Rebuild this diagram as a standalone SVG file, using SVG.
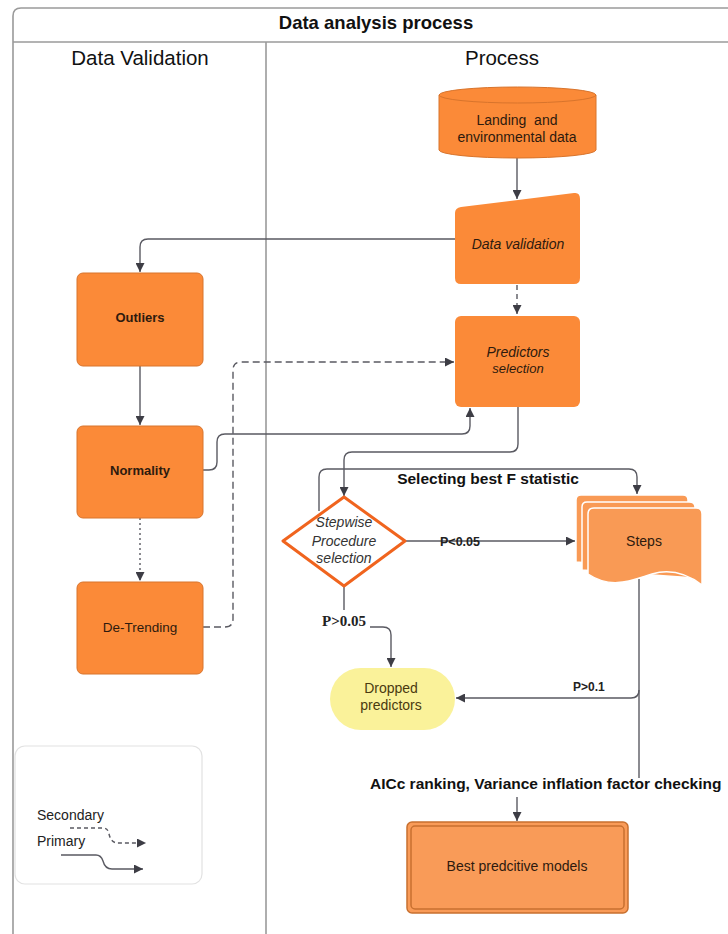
<svg xmlns="http://www.w3.org/2000/svg" width="728" height="934" viewBox="0 0 728 934">
<style>
text{font-family:"Liberation Sans",Arial,sans-serif;fill:#2e1a0e}
.c{text-anchor:middle}
.n{fill:#FB8A38;stroke:#D8742C;stroke-width:1}
.ln{fill:none;stroke:#5a5a62;stroke-width:1.4}
.frame{fill:none;stroke:#9a9a9a;stroke-width:1.6}
.b{font-weight:bold}
.i{font-style:italic}
</style>
<defs>
<marker id="ah" viewBox="0 0 10 10" refX="10" refY="5" markerWidth="10" markerHeight="9" markerUnits="userSpaceOnUse" orient="auto">
<path d="M0,0 L10,5 L0,10 Z" fill="#3d3d45"/>
</marker>
</defs>
<rect width="728" height="934" fill="#ffffff"/>
<g id="frame">
<path class="frame" d="M13,934 L13,16 Q13,8 21,8 L728,8"/>
<line class="frame" x1="13" y1="42" x2="728" y2="42"/>
<line class="frame" x1="266" y1="42" x2="266" y2="934"/>
<text class="c b" x="376" y="29" font-size="18.5" style="fill:#111">Data analysis process</text>
<text class="c" x="140" y="65" font-size="20.5" style="fill:#111">Data Validation</text>
<text class="c" x="502" y="65" font-size="20.5" style="fill:#111">Process</text>
</g>
<g id="connectors">
<path class="ln" d="M517,158 L517,199" marker-end="url(#ah)"/>
<path class="ln" d="M455,239 L148,239 Q140,239 140,247 L140,272" marker-end="url(#ah)"/>
<path class="ln" d="M517,285 L517,314" stroke-dasharray="5,4" marker-end="url(#ah)"/>
<path class="ln" d="M140,366 L140,425" marker-end="url(#ah)"/>
<path class="ln" d="M203,470 L209,470 Q217,470 217,462 L217,442 Q217,434 225,434 L462,434 Q470,434 470,426 L470,408" marker-end="url(#ah)"/>
<path class="ln" d="M140,518 L140,581" stroke-dasharray="2,3" marker-end="url(#ah)"/>
<path class="ln" d="M203,627 L225,627 Q233,627 233,619 L233,370 Q233,362 241,362 L454,362" stroke-dasharray="7,4" marker-end="url(#ah)"/>
<path class="ln" d="M518,407 L518,444 Q518,452 510,452 L352,452 Q344,452 344,460 L344,496" marker-end="url(#ah)"/>
<path class="ln" d="M319,511 L319,477 Q319,469 327,469 L629,469 Q637,469 637,477 L637,494" marker-end="url(#ah)"/>
<path class="ln" d="M405,541 L575,541" marker-end="url(#ah)"/>
<path class="ln" d="M344,586 L344,619 Q344,627 352,627 L383,627 Q391,627 391,635 L391,667" marker-end="url(#ah)"/>
<path class="ln" d="M639,579 L639,778"/>
<path class="ln" d="M639,690 Q639,698 631,698 L456,698" marker-end="url(#ah)"/>
<path class="ln" d="M517,797 L517,821" marker-end="url(#ah)"/>
<rect x="318" y="610" width="52" height="22" fill="#ffffff"/>
<text x="322" y="626" font-size="15" class="b" style="font-family:'Liberation Serif','Times New Roman',serif;fill:#222">P&gt;0.05</text>
<text x="440" y="546" font-size="12.5" class="b" style="fill:#222">P&lt;0.05</text>
<text x="573" y="691" font-size="12" class="b" style="fill:#222">P&gt;0.1</text>
<text class="c b" x="488" y="484" font-size="15.5" style="fill:#111">Selecting best F statistic</text>
<text class="b" x="370" y="789" font-size="15.5" style="fill:#111">AICc ranking, Variance inflation factor checking</text>
</g>
<g id="landing">
<path class="n" d="M439,95 L439,150 A78.5,8 0 0 0 596,150 L596,95 A78.5,8 0 0 0 439,95 Z"/>
<path fill="none" stroke="#D8742C" stroke-width="1" d="M439,95 A78.5,8 0 0 0 596,95"/>
<text class="c" x="517" y="125" font-size="14" xml:space="preserve">Landing  and</text>
<text class="c" x="517" y="142" font-size="14">environmental data</text>
</g>
<g id="data-validation">
<path d="M455,213 Q455,208 461,207 L574,193 Q580,192 580,199 L580,278 Q580,284 574,284 L461,284 Q455,284 455,278 Z" fill="#FB8A38"/>
<text class="c i" x="518" y="249" font-size="14">Data validation</text>
</g>
<g id="predictors-selection">
<rect x="455" y="316" width="125" height="91" rx="6" fill="#FB8A38"/>
<text class="c i" x="518" y="357" font-size="14">Predictors</text>
<text class="c i" x="518" y="373" font-size="13">selection</text>
</g>
<g id="outliers">
<rect class="n" x="77" y="273" width="126" height="93" rx="6"/>
<text class="c b" x="140" y="322" font-size="13">Outliers</text>
</g>
<g id="normality">
<rect class="n" x="77" y="426" width="126" height="92" rx="6"/>
<text class="c b" x="140" y="475" font-size="13">Normality</text>
</g>
<g id="de-trending">
<rect class="n" x="77" y="582" width="126" height="92" rx="6"/>
<text class="c" x="140" y="632" font-size="13.5">De-Trending</text>
</g>
<g id="stepwise">
<path d="M344,497 L405,541 L344,586 L283,541 Z" fill="#ffffff" stroke="#F0641E" stroke-width="3" stroke-linejoin="round"/>
<text class="c i" x="344" y="527" font-size="14" style="fill:#333">Stepwise</text>
<text class="c i" x="344" y="546" font-size="14" style="fill:#333">Procedure</text>
<text class="c i" x="344" y="563" font-size="14" style="fill:#333">selection</text>
</g>
<g id="steps">
<path d="M576,500 Q576,495 581,495 L683,495 Q688,495 688,500 L688,570 L576,562 Z" fill="#F99A55" stroke="#ffffff" stroke-width="1.5"/>
<path d="M582,507 Q582,502 587,502 L689,502 Q695,502 695,507 L695,578 L582,570 Z" fill="#F99A55" stroke="#ffffff" stroke-width="1.5"/>
<path d="M588,514 Q588,508 594,508 L696,508 Q702,508 702,514 L702,585 C690,576 672,568 652,574 C632,580 612,590 588,574 Z" fill="#F99A55" stroke="#ffffff" stroke-width="1.5"/>
<text class="c" x="644" y="546" font-size="14">Steps</text>
</g>
<g id="dropped">
<rect x="330" y="668" width="125" height="62" rx="31" fill="#FAF29A"/>
<text class="c" x="391" y="693" font-size="14" style="fill:#4a3a10">Dropped</text>
<text class="c" x="391" y="710" font-size="14" style="fill:#4a3a10">predictors</text>
</g>
<g id="best-models">
<rect x="407" y="822" width="221" height="91" rx="5" fill="#F99B58" stroke="#C8702F" stroke-width="1.5"/>
<rect x="411" y="826" width="213" height="83" rx="4" fill="none" stroke="#C8702F" stroke-width="1.5"/>
<text class="c" x="517" y="871" font-size="14">Best predcitive models</text>
</g>
<g id="legend">
<rect x="15" y="746" width="187" height="138" rx="10" fill="none" stroke="#e2e2e2" stroke-width="1.2"/>
<text x="37" y="820" font-size="14" style="fill:#222">Secondary</text>
<text x="37" y="846" font-size="14" style="fill:#222">Primary</text>
<path class="ln" d="M70,828 L103,828 Q108,828 109,834 Q111,843 118,843 L146,843" stroke="#8a8a90" stroke-dasharray="4,3" marker-end="url(#ah)"/>
<path class="ln" d="M61,855 L96,855 Q101,855 103,861 Q105,869 112,869 L143,869" marker-end="url(#ah)"/>
</g>
</svg>
